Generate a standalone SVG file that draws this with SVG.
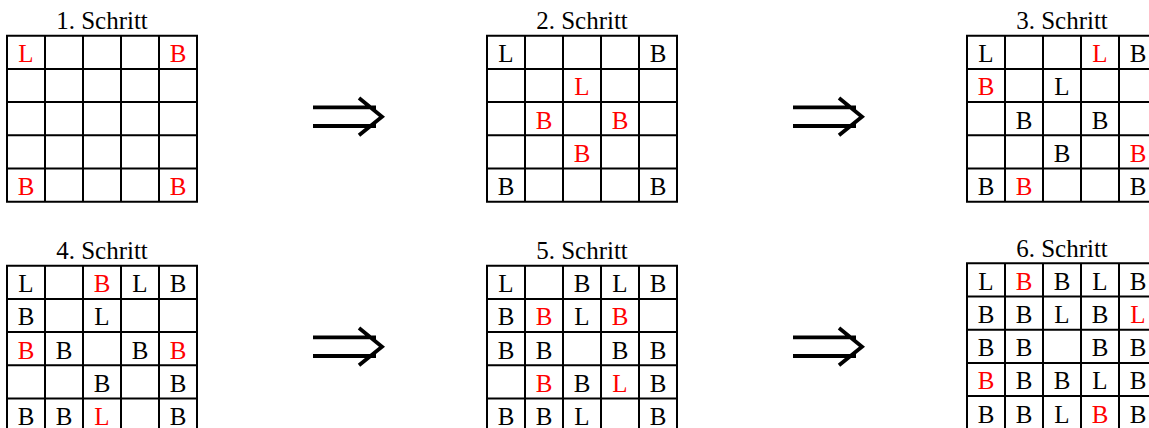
<svg xmlns="http://www.w3.org/2000/svg" xmlns:xlink="http://www.w3.org/1999/xlink" width="1149" height="428" viewBox="0 0 1149 428">
  <style>
    .grid { fill: none; stroke: #000; stroke-width: 2; }
    .title { font-family: "Liberation Serif", "Times New Roman", serif; font-size: 25px; fill: #000; text-anchor: middle; }
    .cell { font-family: "Liberation Serif", "Times New Roman", serif; font-size: 25px; fill: #000; text-anchor: middle; }
    .new { fill: #ff0000; }
    .arrow { fill: none; stroke: #000; stroke-width: 3.8; stroke-linecap: butt; stroke-linejoin: miter; }
  </style>
  <defs>
    <!-- 5x5 board: 38 px columns, 33.2 px rows -->
    <path id="board" class="grid" d="M0 0H190V166H0Z M38 0V166 M76 0V166 M114 0V166 M152 0V166 M0 33.2H190 M0 66.4H190 M0 99.6H190 M0 132.8H190"/>
    <!-- double arrow (implies) -->
    <path id="implies" class="arrow" d="M0 0H63 M0 18.7H63 M46 -9.2L69 9.35L46 27.9"/>
  </defs>

  <rect width="1149" height="428" fill="#fff"/>

  <g id="step1" transform="translate(7 35.7)">
    <text class="title" x="95" y="-6.7">1. Schritt</text>
    <use xlink:href="#board" href="#board"/>
    <text class="cell new" x="19" y="26.5">L</text>
    <text class="cell new" x="171" y="26.5">B</text>
    <text class="cell new" x="19" y="159.3">B</text>
    <text class="cell new" x="171" y="159.3">B</text>
  </g>

  <g id="step2" transform="translate(487 35.7)">
    <text class="title" x="95" y="-6.7">2. Schritt</text>
    <use xlink:href="#board" href="#board"/>
    <text class="cell" x="19" y="26.5">L</text>
    <text class="cell" x="171" y="26.5">B</text>
    <text class="cell new" x="95" y="59.7">L</text>
    <text class="cell new" x="57" y="92.9">B</text>
    <text class="cell new" x="133" y="92.9">B</text>
    <text class="cell new" x="95" y="126.1">B</text>
    <text class="cell" x="19" y="159.3">B</text>
    <text class="cell" x="171" y="159.3">B</text>
  </g>

  <g id="step3" transform="translate(967 35.7)">
    <text class="title" x="95" y="-6.7">3. Schritt</text>
    <use xlink:href="#board" href="#board"/>
    <text class="cell" x="19" y="26.5">L</text>
    <text class="cell new" x="133" y="26.5">L</text>
    <text class="cell" x="171" y="26.5">B</text>
    <text class="cell new" x="19" y="59.7">B</text>
    <text class="cell" x="95" y="59.7">L</text>
    <text class="cell" x="57" y="92.9">B</text>
    <text class="cell" x="133" y="92.9">B</text>
    <text class="cell" x="95" y="126.1">B</text>
    <text class="cell new" x="171" y="126.1">B</text>
    <text class="cell" x="19" y="159.3">B</text>
    <text class="cell new" x="57" y="159.3">B</text>
    <text class="cell" x="171" y="159.3">B</text>
  </g>

  <g id="step4" transform="translate(7 265.7)">
    <text class="title" x="95" y="-6.7">4. Schritt</text>
    <use xlink:href="#board" href="#board"/>
    <text class="cell" x="19" y="26.5">L</text>
    <text class="cell new" x="95" y="26.5">B</text>
    <text class="cell" x="133" y="26.5">L</text>
    <text class="cell" x="171" y="26.5">B</text>
    <text class="cell" x="19" y="59.7">B</text>
    <text class="cell" x="95" y="59.7">L</text>
    <text class="cell new" x="19" y="92.9">B</text>
    <text class="cell" x="57" y="92.9">B</text>
    <text class="cell" x="133" y="92.9">B</text>
    <text class="cell new" x="171" y="92.9">B</text>
    <text class="cell" x="95" y="126.1">B</text>
    <text class="cell" x="171" y="126.1">B</text>
    <text class="cell" x="19" y="159.3">B</text>
    <text class="cell" x="57" y="159.3">B</text>
    <text class="cell new" x="95" y="159.3">L</text>
    <text class="cell" x="171" y="159.3">B</text>
  </g>

  <g id="step5" transform="translate(487 265.7)">
    <text class="title" x="95" y="-6.7">5. Schritt</text>
    <use xlink:href="#board" href="#board"/>
    <text class="cell" x="19" y="26.5">L</text>
    <text class="cell" x="95" y="26.5">B</text>
    <text class="cell" x="133" y="26.5">L</text>
    <text class="cell" x="171" y="26.5">B</text>
    <text class="cell" x="19" y="59.7">B</text>
    <text class="cell new" x="57" y="59.7">B</text>
    <text class="cell" x="95" y="59.7">L</text>
    <text class="cell new" x="133" y="59.7">B</text>
    <text class="cell" x="19" y="92.9">B</text>
    <text class="cell" x="57" y="92.9">B</text>
    <text class="cell" x="133" y="92.9">B</text>
    <text class="cell" x="171" y="92.9">B</text>
    <text class="cell new" x="57" y="126.1">B</text>
    <text class="cell" x="95" y="126.1">B</text>
    <text class="cell new" x="133" y="126.1">L</text>
    <text class="cell" x="171" y="126.1">B</text>
    <text class="cell" x="19" y="159.3">B</text>
    <text class="cell" x="57" y="159.3">B</text>
    <text class="cell" x="95" y="159.3">L</text>
    <text class="cell" x="171" y="159.3">B</text>
  </g>

  <g id="step6" transform="translate(967 263.3)">
    <text class="title" x="95" y="-6.7">6. Schritt</text>
    <use xlink:href="#board" href="#board"/>
    <text class="cell" x="19" y="26.5">L</text>
    <text class="cell new" x="57" y="26.5">B</text>
    <text class="cell" x="95" y="26.5">B</text>
    <text class="cell" x="133" y="26.5">L</text>
    <text class="cell" x="171" y="26.5">B</text>
    <text class="cell" x="19" y="59.7">B</text>
    <text class="cell" x="57" y="59.7">B</text>
    <text class="cell" x="95" y="59.7">L</text>
    <text class="cell" x="133" y="59.7">B</text>
    <text class="cell new" x="171" y="59.7">L</text>
    <text class="cell" x="19" y="92.9">B</text>
    <text class="cell" x="57" y="92.9">B</text>
    <text class="cell" x="133" y="92.9">B</text>
    <text class="cell" x="171" y="92.9">B</text>
    <text class="cell new" x="19" y="126.1">B</text>
    <text class="cell" x="57" y="126.1">B</text>
    <text class="cell" x="95" y="126.1">B</text>
    <text class="cell" x="133" y="126.1">L</text>
    <text class="cell" x="171" y="126.1">B</text>
    <text class="cell" x="19" y="159.3">B</text>
    <text class="cell" x="57" y="159.3">B</text>
    <text class="cell" x="95" y="159.3">L</text>
    <text class="cell new" x="133" y="159.3">B</text>
    <text class="cell" x="171" y="159.3">B</text>
  </g>

  <g id="connectors">
    <use xlink:href="#implies" href="#implies" transform="translate(313 107.3)"/>
    <use xlink:href="#implies" href="#implies" transform="translate(793 107.3)"/>
    <use xlink:href="#implies" href="#implies" transform="translate(313 337.3)"/>
    <use xlink:href="#implies" href="#implies" transform="translate(793 337.3)"/>
  </g>
</svg>
